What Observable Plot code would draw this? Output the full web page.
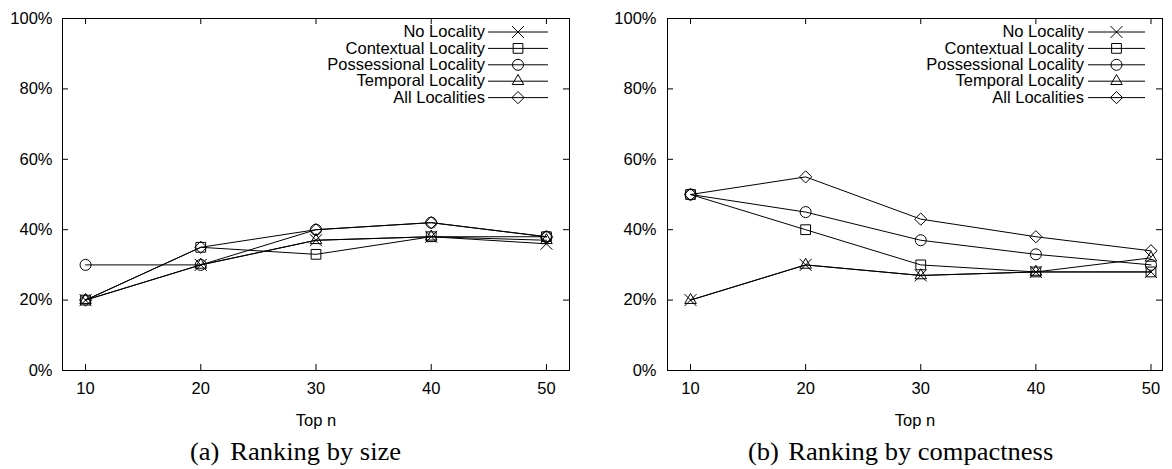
<!DOCTYPE html>
<html><head><meta charset="utf-8">
<script src="https://cdn.jsdelivr.net/npm/d3@7"></script>
<script src="https://cdn.jsdelivr.net/npm/@observablehq/plot@0.6"></script>
<style>
body{margin:0;background:#fff;}
#root{position:relative;width:1172px;height:469px;overflow:hidden;background:#fff;}
.panel{position:absolute;top:0;}
.cap{position:absolute;top:439px;font-family:"Liberation Serif","Times New Roman",serif;font-size:25px;line-height:25px;white-space:nowrap;color:#000;transform:scaleX(1.06);transform-origin:0 0;}
.cap .lab{display:inline-block;width:38px;}
</style></head>
<body><div id="root"></div>
<script>
// ---- data ----
const topN = [10, 20, 30, 40, 50];
const seriesNames = ["No Locality", "Contextual Locality", "Possessional Locality", "Temporal Locality", "All Localities"];
const symbolNames = ["times", "square", "circle", "triangle2", "diamond2"];
const yTicks = [0, 20, 40, 60, 80, 100];
const xTicks = [10, 20, 30, 40, 50];

// (a) Ranking by size
const sizeNo  = [20, 30, 37, 38, 36];
const sizeCtx = [20, 35, 33, 38, 38];
const sizePos = [30, 30, 40, 42, 38];
const sizeTmp = [20, 30, 37, 38, 37];
const sizeAll = [20, 35, 40, 42, 38];

// (b) Ranking by compactness
const compNo  = [20, 30, 27, 28, 28];
const compCtx = [50, 40, 30, 28, 28];
const compPos = [50, 45, 37, 33, 30];
const compTmp = [20, 30, 27, 28, 32];
const compAll = [50, 55, 43, 38, 34];

const captionA = ["(a)", "Ranking by size"];
const captionB = ["(b)", "Ranking by compactness"];

function table(cols) {
  return seriesNames.flatMap((s, i) => topN.map((n, j) => ({series: s, n, v: cols[i][j]})));
}

const symMap = {times: d3.symbolTimes, square: d3.symbolSquare, circle: d3.symbolCircle, triangle2: d3.symbolTriangle2, diamond2: d3.symbolDiamond2};
const R = 5.5;
const FONT = '"Liberation Sans", Arial, sans-serif';
const FS = 16.5;

function panel({data, left, width, marginLeft, marginRight, xDomain, tickPadding, legend, caption, capLeft}) {
  const marginTop = 18, height = 440, marginBottom = 70;
  const frameW = width - marginLeft - marginRight;
  const frameH = height - marginTop - marginBottom;
  const tick = 6;
  const chart = Plot.plot({
    width, height, marginLeft, marginRight, marginTop, marginBottom,
    style: {fontFamily: FONT, fontSize: FS + "px", color: "#000", background: "#fff"},
    x: {domain: xDomain},
    y: {domain: [0, 100]},
    symbol: {domain: seriesNames, range: symbolNames},
    marks: [
      Plot.ruleY(yTicks, {y: d => d, insetRight: frameW - tick, stroke: "#000"}),
      Plot.ruleY(yTicks, {y: d => d, insetLeft: frameW - tick, stroke: "#000"}),
      Plot.ruleX(xTicks, {x: d => d, insetTop: frameH - tick, stroke: "#000"}),
      Plot.ruleX(xTicks, {x: d => d, insetBottom: frameH - tick, stroke: "#000"}),
      Plot.frame({stroke: "#000", strokeWidth: 1}),
      Plot.axisY({ticks: yTicks, tickSize: 0, tickPadding, tickFormat: d => d + "%", label: null}),
      Plot.axisX({ticks: xTicks, tickSize: 0, tickPadding: 12, tickFormat: d => String(d), label: null}),
      Plot.text(["Top n"], {text: d => d, frameAnchor: "bottom", dy: 44, lineAnchor: "top"}),
      Plot.line(data, {x: "n", y: "v", z: "series", stroke: "#000", strokeWidth: 1}),
      Plot.dot(data, {x: "n", y: "v", symbol: "series", stroke: "#000", fill: "none", strokeWidth: 1, r: R})
    ]
  });
  // legend (gnuplot-style: text right-aligned, then line sample with symbol)
  const g = d3.select(chart).append("g")
    .attr("font-family", FONT).attr("font-size", FS);
  seriesNames.forEach((s, i) => {
    const y = legend.y0 + i * legend.step;
    g.append("text").attr("x", legend.textEnd).attr("y", y).attr("dy", "0.32em")
      .attr("text-anchor", "end").attr("fill", "#000").text(s);
    g.append("line").attr("x1", legend.x1).attr("x2", legend.x2).attr("y1", y).attr("y2", y)
      .attr("stroke", "#000").attr("stroke-width", 1);
    g.append("path").attr("transform", `translate(${(legend.x1 + legend.x2) / 2},${y})`)
      .attr("d", d3.symbol(symMap[symbolNames[i]], Math.PI * R * R)())
      .attr("fill", "none").attr("stroke", "#000").attr("stroke-width", 1);
  });
  const wrap = document.createElement("div");
  wrap.className = "panel";
  wrap.style.left = left + "px";
  wrap.appendChild(chart);
  document.getElementById("root").appendChild(wrap);

  const cap = document.createElement("div");
  cap.className = "cap";
  cap.style.left = capLeft + "px";
  const lab = document.createElement("span");
  lab.className = "lab";
  lab.textContent = caption[0];
  cap.appendChild(lab);
  cap.appendChild(document.createTextNode(caption[1]));
  document.getElementById("root").appendChild(cap);
}

panel({
  data: table([sizeNo, sizeCtx, sizePos, sizeTmp, sizeAll]),
  left: 0, width: 586, marginLeft: 62, marginRight: 17, xDomain: [8, 52], tickPadding: 10,
  legend: {textEnd: 485, x1: 488, x2: 548, y0: 32, step: 16.4},
  caption: captionA, capLeft: 190
});
panel({
  data: table([compNo, compCtx, compPos, compTmp, compAll]),
  left: 586, width: 586, marginLeft: 81, marginRight: 10, xDomain: [8, 51], tickPadding: 11,
  legend: {textEnd: 498, x1: 502, x2: 559, y0: 32, step: 16.4},
  caption: captionB, capLeft: 748
});
</script>
</body></html>
